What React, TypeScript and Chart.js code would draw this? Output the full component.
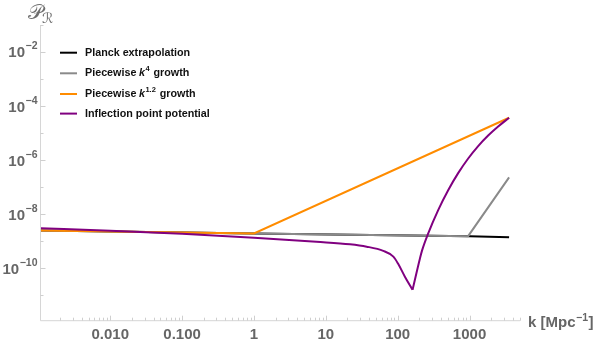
import React, { useEffect, useRef } from "react";
import Chart from "chart.js/auto";

// ---- data ----
const kPlanck = [0.00107, 1, 1000, 3550];
const pPlanck = [2.5e-9, 1.95e-9, 1.53e-9, 1.4e-9];

const kK4 = [0.00107, 1, 955, 3550];
const pK4 = [2.5e-9, 1.95e-9, 1.54e-9, 2.3e-7];

const kK12 = [0.00107, 1, 3550];
const pK12 = [2.5e-9, 1.95e-9, 3.7e-5];

// inflection point potential: falling branch (to the dip) and rising branch (from the dip)
const kInflFall = [0.00107, 0.01, 0.1, 1, 7.4, 21.7, 37, 63, 87, 101, 126, 161];
const pInflFall = [3.0e-9, 2.45e-9, 1.9e-9, 1.35e-9, 9.5e-10, 7.7e-10, 6.3e-10, 4.4e-10, 2.7e-10, 1.5e-10, 4.9e-11, 1.6e-11];
const kInflRise = [161, 204, 219, 266, 366, 504, 694, 957, 1318, 1815, 2500, 3550];
const pInflRise = [1.6e-11, 2.3e-10, 4.7e-10, 1.96e-9, 1.42e-8, 7.7e-8, 3.3e-7, 1.15e-6, 3.3e-6, 8.1e-6, 1.75e-5, 3.7e-5];

const xTickValues = [0.01, 0.1, 1, 10, 100, 1000];
const xTickLabels = ["0.010", "0.100", "1", "10", "100", "1000"];
const yTickExponents = [-2, -4, -6, -8, -10];

const seriesNames = ["Planck extrapolation", "Piecewise k4 growth", "Piecewise k1.2 growth", "Inflection point potential"];
const seriesColors = ["#000000", "#8a8a8a", "#ff8c00", "#800080"];

const toPts = (ks: number[], ps: number[]) => ks.map((k, i) => ({ x: k, y: ps[i] }));

const FONT = '"Liberation Sans", Arial, sans-serif';

const decorPlugin = {
  id: "decor",
  afterDraw(chart: any) {
    const ctx = chart.ctx as CanvasRenderingContext2D;
    const xs = chart.scales.x;
    const ys = chart.scales.y;
    const ca = chart.chartArea;
    ctx.save();
    // axes
    ctx.strokeStyle = "#d6d6d6";
    ctx.lineWidth = 1;
    ctx.beginPath();
    ctx.moveTo(ca.left, ca.top);
    ctx.lineTo(ca.left, ca.bottom);
    ctx.lineTo(ca.right, ca.bottom);
    ctx.stroke();

    // y ticks
    ctx.strokeStyle = "#cfcfcf";
    for (let e = -11; e <= -1; e++) {
      const y = Math.round(ys.getPixelForValue(Math.pow(10, e))) + 0.5;
      const len = e % 2 === 0 ? 5 : 3;
      ctx.beginPath();
      ctx.moveTo(ca.left, y);
      ctx.lineTo(ca.left + len, y);
      ctx.stroke();
    }
    // x ticks
    for (let d = -3; d <= 3; d++) {
      for (let m = 1; m <= 9; m++) {
        const v = m * Math.pow(10, d);
        if (v < xs.min || v > xs.max) continue;
        const x = Math.round(xs.getPixelForValue(v)) + 0.5;
        const len = m === 1 ? 5 : 3;
        ctx.beginPath();
        ctx.moveTo(x, ca.bottom);
        ctx.lineTo(x, ca.bottom - len);
        ctx.stroke();
      }
    }

    // x tick labels
    ctx.fillStyle = "#666666";
    ctx.font = `bold 15px ${FONT}`;
    ctx.textAlign = "center";
    ctx.textBaseline = "alphabetic";
    xTickValues.forEach((v, i) => {
      const x = xs.getPixelForValue(v);
      ctx.fillText(xTickLabels[i], x, 338.5);
    });

    // y tick labels 10^e
    ctx.textAlign = "left";
    yTickExponents.forEach((e) => {
      const y = ys.getPixelForValue(Math.pow(10, e));
      ctx.font = `bold 15px ${FONT}`;
      const wb = ctx.measureText("10").width;
      const expStr = "\u2212" + String(-e);
      ctx.font = `bold 10.5px ${FONT}`;
      const we = ctx.measureText(expStr).width;
      const right = 37;
      const x0 = right - we - wb;
      ctx.font = `bold 15px ${FONT}`;
      ctx.fillText("10", x0, y + 5.5);
      ctx.font = `bold 10.5px ${FONT}`;
      ctx.fillText(expStr, x0 + wb + 0.5, y - 2.5);
    });

    // x axis title k [Mpc^-1]
    ctx.font = `bold 15px ${FONT}`;
    const t1 = "k [Mpc";
    ctx.fillText(t1, 528, 327);
    let xx = 528 + ctx.measureText(t1).width;
    ctx.font = `bold 10.5px ${FONT}`;
    ctx.fillText("\u22121", xx + 0.5, 321);
    xx += ctx.measureText("\u22121").width + 1;
    ctx.font = `bold 15px ${FONT}`;
    ctx.fillText("]", xx, 327);

    // y axis title P_R
    ctx.fillStyle = "#6e6e6e";
    ctx.font = `21px "DejaVu Serif", "DejaVu Sans", serif`;
    ctx.fillText("\u{1D4AB}", 28, 19);
    const wp = ctx.measureText("\u{1D4AB}").width;
    ctx.font = `14px "DejaVu Serif", "DejaVu Sans", serif`;
    ctx.fillText("\u211B", 27 + wp, 23);

    // legend
    const rowsY = [52.7, 73.3, 94, 113.6];
    rowsY.forEach((ry, i) => {
      ctx.strokeStyle = seriesColors[i];
      ctx.lineWidth = 2;
      ctx.beginPath();
      ctx.moveTo(60, ry);
      ctx.lineTo(77, ry);
      ctx.stroke();
    });
    ctx.fillStyle = "#111111";
    ctx.textBaseline = "middle";
    const nf = `bold 10.75px ${FONT}`;
    const itf = `italic bold 10.75px ${FONT}`;
    const sf = `bold 7.5px ${FONT}`;
    ctx.font = nf;
    ctx.fillText(seriesNames[0], 85, rowsY[0]);
    ctx.fillText(seriesNames[3], 85, rowsY[3]);
    const drawPow = (ry: number, sup: string) => {
      ctx.font = nf;
      const a = "Piecewise";
      ctx.fillText(a, 85, ry);
      let x = 85 + ctx.measureText(a).width + 2.5;
      ctx.font = itf;
      ctx.fillText("k", x, ry);
      x += ctx.measureText("k").width + 0.5;
      ctx.font = sf;
      ctx.fillText(sup, x, ry - 4);
      x += ctx.measureText(sup).width;
      ctx.font = nf;
      ctx.fillText("growth", x + 4, ry);
    };
    drawPow(rowsY[1], "4");
    drawPow(rowsY[2], "1.2");
    ctx.restore();
  },
};

export default function App() {
  const ref = useRef<HTMLCanvasElement | null>(null);
  useEffect(() => {
    document.body.style.margin = "0";
    const canvas = ref.current!;
    const mk = (label: string, ks: number[], ps: number[], color: string, order: number, smooth: boolean) => ({
      label,
      data: toPts(ks, ps),
      borderColor: color,
      backgroundColor: color,
      borderWidth: 2,
      pointRadius: 0,
      showLine: true,
      tension: 0,
      cubicInterpolationMode: smooth ? "monotone" : "default",
      fill: false,
      order,
    });
    const chart = new Chart(canvas, {
      type: "scatter",
      data: {
        datasets: [
          mk(seriesNames[0], kPlanck, pPlanck, seriesColors[0], 3, false),
          mk(seriesNames[1], kK4, pK4, seriesColors[1], 2, false),
          mk(seriesNames[2], kK12, pK12, seriesColors[2], 1, false),
          mk(seriesNames[3], kInflFall, pInflFall, seriesColors[3], 0, true),
          mk(seriesNames[3], kInflRise, pInflRise, seriesColors[3], 0, true),
        ],
      },
      options: {
        animation: false,
        responsive: false,
        devicePixelRatio: 1,
        layout: { padding: { left: 40.5, top: 25, right: 78, bottom: 23.3 } },
        plugins: { legend: { display: false }, tooltip: { enabled: false } },
        scales: {
          x: { type: "logarithmic", min: 0.00107, max: 5035, display: false },
          y: { type: "logarithmic", min: 1.15e-12, max: 0.0997, display: false },
        },
      },
      plugins: [decorPlugin],
    } as any);
    return () => chart.destroy();
  }, []);
  return (
    <div style={{ position: "absolute", left: 0, top: 0, width: 598, height: 344 }}>
      <canvas ref={ref} width={598} height={344} style={{ display: "block" }} />
    </div>
  );
}
